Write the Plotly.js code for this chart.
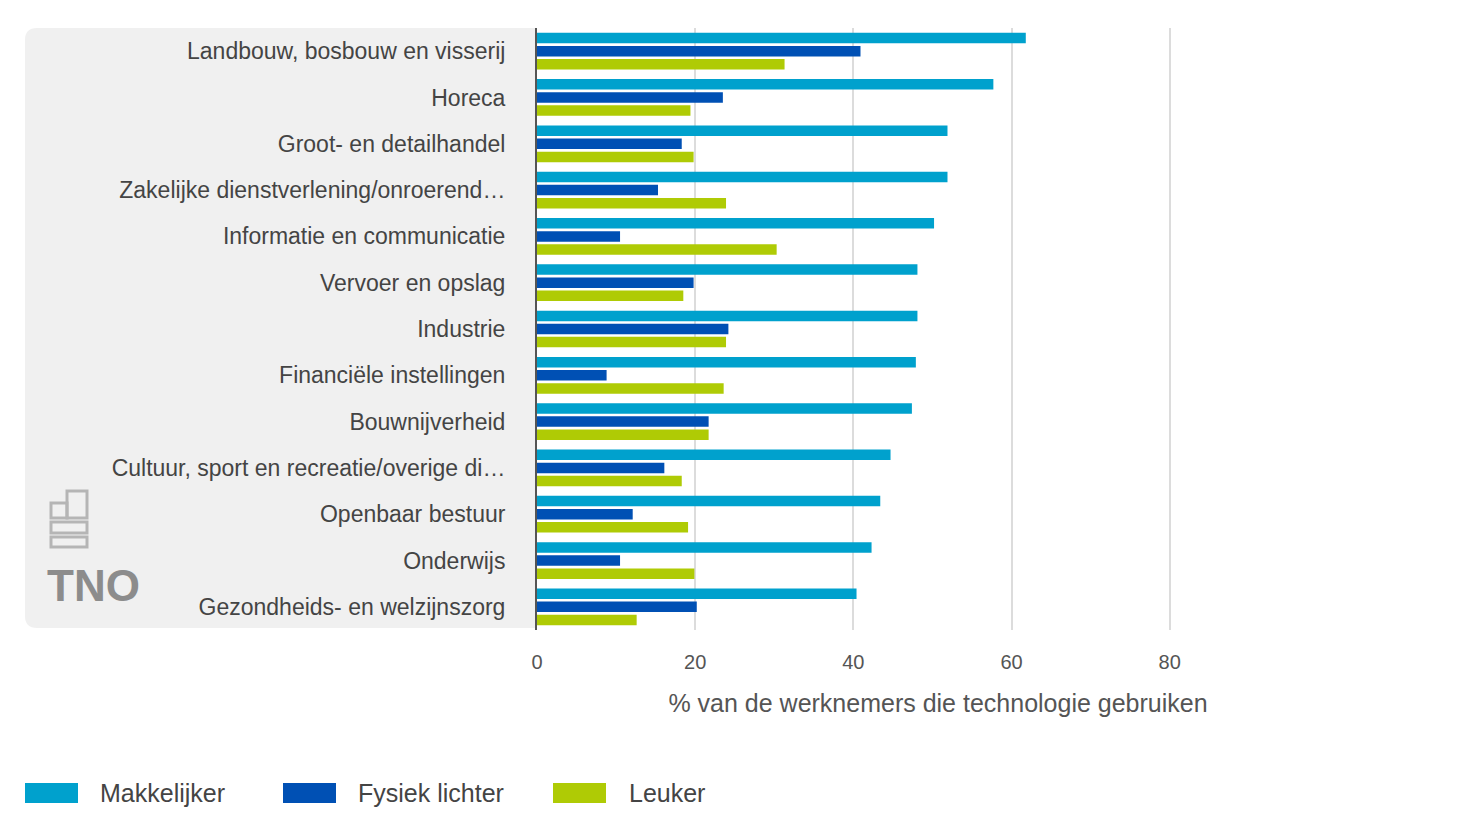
<!DOCTYPE html>
<html>
<head>
<meta charset="utf-8">
<script src="https://cdn.plot.ly/plotly-3.0.1.min.js"></script>
<style>html,body{margin:0;padding:0;background:#fff;}#chart{width:1484px;height:835px;}</style>
</head>
<body>
<div id="chart"></div>
<script>
const categories = [
  "Landbouw, bosbouw en visserij",
  "Horeca",
  "Groot- en detailhandel",
  "Zakelijke dienstverlening/onroerend…",
  "Informatie en communicatie",
  "Vervoer en opslag",
  "Industrie",
  "Financiële instellingen",
  "Bouwnijverheid",
  "Cultuur, sport en recreatie/overige di…",
  "Openbaar bestuur",
  "Onderwijs",
  "Gezondheids- en welzijnszorg"
];
const seriesNames = ["Makkelijker", "Fysiek lichter", "Leuker"];
const makkelijker = [61.8, 57.7, 51.9, 51.9, 50.2, 48.1, 48.1, 47.9, 47.4, 44.7, 43.4, 42.3, 40.4];
const fysiekLichter = [40.9, 23.5, 18.3, 15.3, 10.5, 19.8, 24.2, 8.8, 21.7, 16.1, 12.1, 10.5, 20.2];
const leuker = [31.3, 19.4, 19.8, 23.9, 30.3, 18.5, 23.9, 23.6, 21.7, 18.3, 19.1, 19.9, 12.6];
const xTicks = [0, 20, 40, 60, 80];
const xTitle = "% van de werknemers die technologie gebruiken";

const colors = ["#00a1cd", "#0050b4", "#afcb05"];
const seriesValues = [makkelijker, fysiekLichter, leuker];
const FONT = "Liberation Sans, Arial, sans-serif";

// plot area in pixels
const L = 537, R = 1339, T = 28, B = 630;
const px = x => (x - L) / (R - L);
const py = y => (B - y) / (B - T);

const traces = seriesValues.map((vals, i) => ({
  type: "bar",
  orientation: "h",
  name: seriesNames[i],
  y: categories,
  x: vals,
  marker: {color: colors[i]},
  showlegend: false,
  hoverinfo: "x+y+name"
}));

function roundedRect(x0, y0, x1, y1, r) {
  const X = v => px(v).toFixed(5), Y = v => py(v).toFixed(5);
  return `M ${X(x0 + r)} ${Y(y0)} L ${X(x1)} ${Y(y0)} L ${X(x1)} ${Y(y1)} L ${X(x0 + r)} ${Y(y1)} ` +
    `Q ${X(x0)} ${Y(y1)} ${X(x0)} ${Y(y1 - r)} L ${X(x0)} ${Y(y0 + r)} Q ${X(x0)} ${Y(y0)} ${X(x0 + r)} ${Y(y0)} Z`;
}

const shapes = [{
  type: "path", xref: "paper", yref: "paper", layer: "below",
  path: roundedRect(25, 28, 537, 628, 12),
  fillcolor: "#f0f0f0", line: {width: 0}
}];

// cbs logo approximation (outlined shapes)
const logoCol = "#b5b5b5";
const logoRects = [
  [51, 503, 67, 518], [67, 491, 87, 518], [51, 522, 87, 533], [51, 537, 87, 547]
];
logoRects.forEach(r => shapes.push({
  type: "rect", xref: "paper", yref: "paper",
  x0: px(r[0]), x1: px(r[2]), y0: py(r[3]), y1: py(r[1]),
  line: {color: logoCol, width: 3}, fillcolor: "rgba(0,0,0,0)"
}));

// legend swatches
const legendPos = [[25, 98], [283, 356], [553, 627]];
const annotations = [];
legendPos.forEach((p, i) => {
  shapes.push({
    type: "rect", xref: "paper", yref: "paper",
    x0: px(p[0]), x1: px(p[0] + 53), y0: py(803), y1: py(783),
    fillcolor: colors[i], line: {width: 0}
  });
  annotations.push({
    xref: "paper", yref: "paper", x: px(p[1]), y: py(793),
    xanchor: "left", yanchor: "middle", showarrow: false,
    text: seriesNames[i], font: {size: 25, color: "#444", family: FONT}
  });
});

annotations.push({
  xref: "paper", yref: "paper", x: px(45), y: py(585),
  xanchor: "left", yanchor: "middle", showarrow: false,
  text: "<b>TNO</b>", font: {size: 44, color: "#8c8c8c", family: FONT}
});

const layout = {
  width: 1484, height: 835,
  margin: {l: L, r: 1484 - R, t: T, b: 835 - B, pad: 0},
  paper_bgcolor: "#ffffff",
  plot_bgcolor: "rgba(0,0,0,0)",
  font: {family: FONT, color: "#444", size: 22},
  barmode: "group",
  bargap: 0.15,
  bargroupgap: 0.2,
  showlegend: false,
  xaxis: {
    range: [0, 101.4],
    tickvals: xTicks,
    ticktext: xTicks.map(String),
    showgrid: true, gridcolor: "#dcdcdc", gridwidth: 2,
    zeroline: false,
    ticks: "", ticklabelstandoff: 18,
    tickfont: {size: 20, color: "#555"},
    title: {text: xTitle, font: {size: 25, color: "#555"}, standoff: 22},
    automargin: false,
    fixedrange: true
  },
  yaxis: {
    autorange: "reversed",
    type: "category",
    showline: true, linecolor: "#555", linewidth: 2,
    showgrid: false, zeroline: false,
    ticks: "", ticklabelstandoff: 25,
    tickfont: {size: 23, color: "#444"},
    automargin: false,
    fixedrange: true
  },
  shapes: shapes,
  annotations: annotations
};

Plotly.newPlot("chart", traces, layout, {displayModeBar: false, staticPlot: true});
</script>
</body>
</html>
